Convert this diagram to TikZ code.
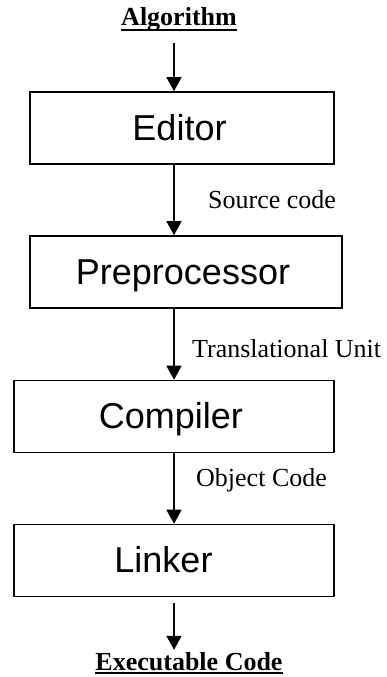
\documentclass[tikz,border=0pt]{standalone}
\usepackage{fontspec}
\setmainfont{Liberation Serif}
\newfontfamily\boxfont{Liberation Sans}
\usetikzlibrary{arrows.meta}

\tikzset{
	stage/.style={draw,line width=1.6pt,inner sep=0pt,minimum height=72pt,text height=24pt,text depth=0pt,font=\boxfont\fontsize{36}{40}\selectfont},
	flow/.style={-{Triangle[width=15pt,length=14pt]},line width=1.6pt},
	tag/.style={anchor=base west,inner sep=0pt,font=\fontsize{26}{30}\selectfont},
	title/.style={anchor=base,inner sep=0pt,font=\bfseries\fontsize{26}{30}\selectfont},
}

\begin{document}
\begin{tikzpicture}[x=1pt,y=-1pt]
			\useasboundingbox (0,0) rectangle (387,677);

			\coordinate (spine) at (174,0); % common x of all arrows

			\node[title] (alg) at (179,26) {Algorithm};
			\node[title] (exe) at (189,670) {Executable Code};
			\draw[line width=1.6pt] ([yshift=-4pt]alg.base west)--([yshift=-4pt]alg.base east); % underline
			\draw[line width=1.6pt] ([yshift=-3pt]exe.base west)--([yshift=-3pt]exe.base east); % underline

			% text sits a little left of the box centre
			\node[stage,minimum width=304pt] (editor) at (182,128) {Editor\hspace*{5pt}};
			\node[stage,minimum width=312pt] (prep) at (186,272) {Preprocessor\hspace*{6pt}};
			\node[stage,minimum width=320pt] (comp) at (174,416.5) {Compiler\hspace*{6pt}};
			\node[stage,minimum width=320pt] (link) at (174,560.5) {Linker\hspace*{21pt}};

			\draw[flow,shorten <=11pt] (alg.south -| spine)--(editor.north -| spine);
			\draw[flow] (editor.south -| spine)--(prep.north -| spine);
			\draw[flow] (prep.south -| spine)--(comp.north -| spine);
			\draw[flow] (comp.south -| spine)--(link.north -| spine);
			\draw[flow,shorten <=6pt,shorten >=2pt] (link.south -| spine)--(exe.north -| spine);

			\node[tag] (src) at (208,208) {Source code};
			\node[tag] (tu) at (192,357) {Translational Unit};
			\node[tag] (obj) at (196,486) {Object Code};
		\end{tikzpicture}
\end{document}
